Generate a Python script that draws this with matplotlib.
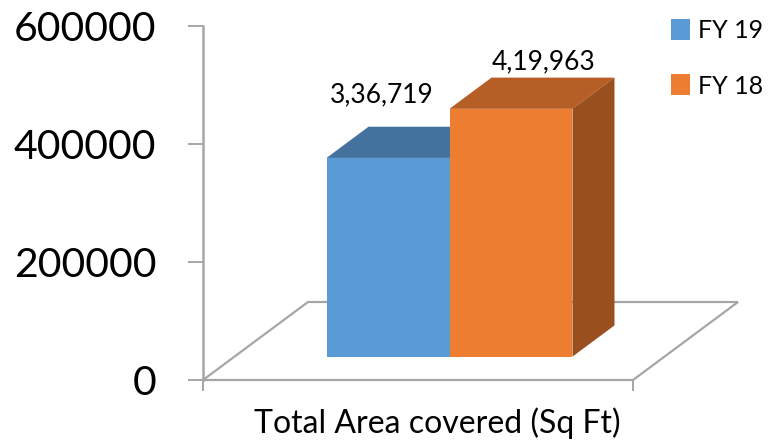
import matplotlib.pyplot as plt
from matplotlib.patches import Polygon, Patch

# data
series = ['FY 19', 'FY 18']
values = [336719, 419963]
value_labels = ['3,36,719', '4,19,963']
category = 'Total Area covered (Sq Ft)'
yticks = [0, 200000, 400000, 600000]

front_colors = ['#5B9BD5', '#ED7D31']
top_colors = ['#44729F', '#B55E25']
side_colors = ['#3C6690', '#9A4F1E']
grid_col = '#A6A6A6'

plt.rcParams['font.family'] = ['Lato', 'DejaVu Sans']

W, H = 769, 440
fig = plt.figure(figsize=(W / 100, H / 100), dpi=100)
# axes spans the y range 0..600000 vertically, x in category units
x0_px, y0_px, y1_px = 203, 380, 26
cat_px = 430
ax = fig.add_axes([x0_px / W, (H - y0_px) / H, (W - x0_px) / W, (y0_px - y1_px) / H])
ymax = 600000
ax.set_ylim(0, ymax)
ax.set_xlim(0, (W - x0_px) / cat_px)

px_y = ymax / (y0_px - y1_px)
# depth vector of the floor (x in category units, y in value units)
DX = 105 / cat_px
DY = 78 * px_y


def proj(x, v, d):
    return (x + d * DX, v + d * DY)


def face(pts, color, z):
    ax.add_patch(Polygon([proj(*p) for p in pts], closed=True, facecolor=color,
                         edgecolor='none', zorder=z, clip_on=False))


# floor outline
floor = [proj(0, 0, 0), proj(1, 0, 0), proj(1, 0, 1), proj(0, 0, 1)]
ax.add_patch(Polygon(floor, closed=True, facecolor='white', edgecolor=grid_col,
                     lw=1.6, zorder=1, clip_on=False))

# bars
bar_w = 0.286
left = 0.5 - bar_w
d0, d1 = 0.3, 0.7
label_dx = [-0.112, -0.023]
label_dy = [19, 3]
for i, v in enumerate(values):
    xa = left + i * bar_w
    xb = xa + bar_w
    z = 3 + i
    face([(xa, v, d0), (xb, v, d0), (xb, v, d1), (xa, v, d1)], top_colors[i], z)
    face([(xb, 0, d0), (xb, 0, d1), (xb, v, d1), (xb, v, d0)], side_colors[i], z)
    face([(xa, 0, d0), (xb, 0, d0), (xb, v, d0), (xa, v, d0)], front_colors[i], z)
    lx, ly = proj((xa + xb) / 2 + label_dx[i], v, d1)
    ax.annotate(value_labels[i], (lx, ly), xytext=(0, label_dy[i]), textcoords='offset pixels',
                ha='center', va='bottom', fontsize=19, color='black', zorder=10)

# axes styling
for s in ['top', 'right', 'bottom']:
    ax.spines[s].set_visible(False)
ax.spines['left'].set_color(grid_col)
ax.spines['left'].set_linewidth(1.8)
ax.set_yticks(yticks)
ax.set_yticklabels([str(t) for t in yticks])
ax.tick_params(axis='y', length=10.5, width=1.4, color=grid_col, pad=23, labelsize=29.5)
ax.set_xticks([0, 1])
ax.set_xticklabels(['', ''])
ax.tick_params(axis='x', length=8, width=1.4, color=grid_col)
ax.text(0.544, -43 * px_y, category, ha='center', va='center', fontsize=23)
ax.patch.set_visible(False)

handles = [Patch(facecolor=c, edgecolor='none') for c in front_colors]
fig.legend(handles, series, loc='upper left', bbox_to_anchor=(671 / W, 1 - 19 / H),
           frameon=False, fontsize=18, handlelength=0.75, handleheight=0.9,
           handletextpad=0.33, labelspacing=1.3, borderpad=0, borderaxespad=0)

fig.savefig('out.png', dpi=100)
